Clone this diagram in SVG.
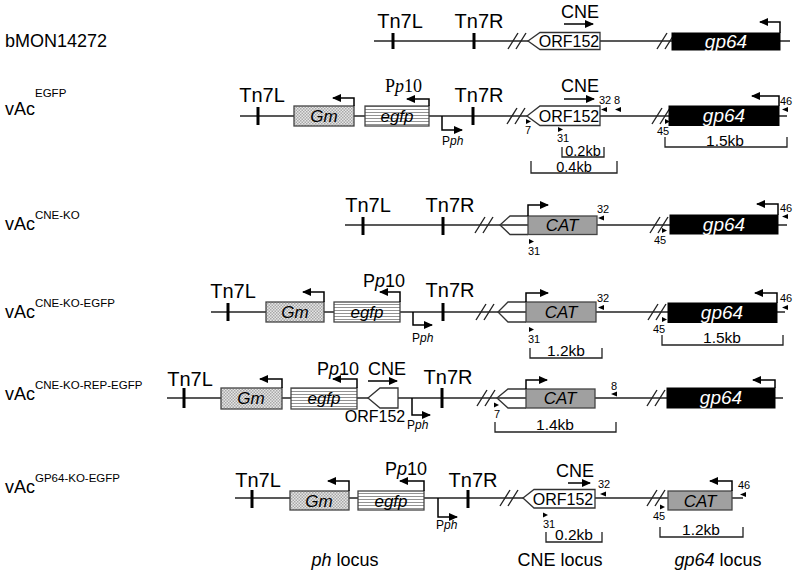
<svg xmlns="http://www.w3.org/2000/svg" width="797" height="578" viewBox="0 0 797 578">
<defs>
<pattern id="chk" width="3" height="3" patternUnits="userSpaceOnUse">
<rect width="3" height="3" fill="#e6e6e6"/>
<rect width="1.5" height="1.5" fill="#a8a8a8"/>
<rect x="1.5" y="1.5" width="1.5" height="1.5" fill="#a8a8a8"/>
</pattern>
<pattern id="hl" width="4" height="3" patternUnits="userSpaceOnUse">
<rect width="4" height="3" fill="#fff"/>
<line x1="0" y1="1.5" x2="4" y2="1.5" stroke="#777" stroke-width="0.8"/>
</pattern>
<marker id="ah" markerUnits="userSpaceOnUse" markerWidth="9" markerHeight="8" viewBox="0 0 9 8" refX="8" refY="4" orient="auto">
<path d="M0,0 L9,4 L0,8 Z" fill="#000"/>
</marker>
</defs>
<style>
.bb{stroke:#222;stroke-width:1.4;fill:none}
.ko{stroke:#333;stroke-width:1.3;fill:none}
.brk{stroke:#222;stroke-width:1.4;fill:none}
.tick{stroke:#000;stroke-width:3}
.box{stroke:#444;stroke-width:1.3}
.gm{fill:url(#chk)}
.eg{fill:url(#hl)}
.cat{fill:#a0a0a0}
.gp{fill:#000;stroke:#000}
.orf{fill:#fff;stroke:#333;stroke-width:1.3}
.pr{stroke:#000;stroke-width:1.5;fill:none;marker-end:url(#ah)}
.sb{stroke:#222;stroke-width:1.3;fill:none}
.pm{fill:#000}
text{font-family:"Liberation Sans",Arial,sans-serif;fill:#000}
.lab{font-size:18px}
.sup{font-size:11.5px}
.tn{font-size:20px;text-anchor:middle}
.cne{font-size:18px;text-anchor:middle}
.orft{font-size:16px;text-anchor:middle}
.gt{font-size:17px;font-style:italic;text-anchor:middle}
.gpt{font-size:19px;font-style:italic;text-anchor:middle;fill:#fff}
.num{font-size:11px}
.kb{font-size:15.5px;text-anchor:middle}
.kbs{font-size:14.5px;text-anchor:middle}
.pph{font-size:12px}
.pp10{font-size:18px}
.loc{font-size:18px;text-anchor:middle}
</style>

<g id="connectors">
<line class="bb" x1="374" y1="41" x2="790" y2="41"/>
<path class="brk" d="M508,49 L518,33 M516,49 L526,33 M657,49 L667,33 M665,49 L675,33"/>
<line class="bb" x1="240" y1="116" x2="787" y2="116"/>
<path class="brk" d="M507,124 L517,108 M515,124 L525,108 M652,124 L662,108 M660,124 L670,108"/>
<line class="bb" x1="345" y1="225" x2="787" y2="225"/>
<path class="brk" d="M475,233 L485,217 M483,233 L493,217 M650,233 L660,217 M658,233 L668,217"/>
<line class="bb" x1="211" y1="312" x2="785" y2="312"/>
<path class="brk" d="M476,320 L486,304 M484,320 L494,304 M648,320 L658,304 M656,320 L666,304"/>
<line class="bb" x1="167" y1="398" x2="783" y2="398"/>
<path class="brk" d="M477,406 L487,390 M485,406 L495,390 M647,406 L657,390 M655,406 L665,390"/>
<line class="bb" x1="235" y1="498" x2="743" y2="498"/>
<path class="brk" d="M500,506 L510,490 M508,506 L518,490 M647,506 L657,490 M655,506 L665,490"/>
</g>

<g id="row1">
<text class="lab" x="5" y="47">bMON14272</text>
<g id="r1-tn7l"><line class="tick" x1="393" y1="33" x2="393" y2="49"/><text class="tn" x="400" y="28">Tn7L</text></g>
<g id="r1-tn7r"><line class="tick" x1="474" y1="33" x2="474" y2="49"/><text class="tn" x="479" y="28">Tn7R</text></g>
<g id="r1-orf152"><path class="orf" d="M528,41 L540,32.5 L600,32.5 L600,49.5 L540,49.5 Z"/><text class="orft" x="569" y="47">ORF152</text></g>
<g id="r1-cne"><text class="cne" x="580" y="18">CNE</text><line class="pr" x1="564" y1="24" x2="593" y2="24"/></g>
<g id="r1-gp64"><rect class="gp" x="672" y="33" width="108" height="17"/><text class="gpt" x="726" y="47.5">gp64</text><polyline class="pr" points="780,33 780,22 760,22"/></g>
</g>

<g id="row2">
<text class="lab" x="5" y="115">vAc</text><text class="sup" x="35" y="97">EGFP</text>
<g id="r2-tn7l"><line class="tick" x1="258" y1="107" x2="258" y2="125"/><text class="tn" x="262" y="102">Tn7L</text></g>
<g id="r2-gm"><rect class="box gm" x="294" y="106" width="60" height="20"/><text class="gt" x="324" y="122">Gm</text><polyline class="pr" points="354,106 354,98 333,98"/></g>
<g id="r2-egfp"><rect class="box eg" x="365" y="106" width="64" height="20"/><text class="gt" x="397" y="122">egfp</text><polyline class="pr" points="429,106 429,99 407,99"/>
<text class="pp10" x="385" y="92" style="font-family:'Liberation Serif','Times New Roman',serif">P<tspan font-style="italic">p</tspan>10</text></g>
<g id="r2-pph"><polyline class="pr" points="442,116 442,130 462,130"/><text class="pph" x="442" y="145">P<tspan font-style="italic">ph</tspan></text></g>
<g id="r2-tn7r"><line class="tick" x1="473" y1="107" x2="473" y2="125"/><text class="tn" x="479" y="102">Tn7R</text></g>
<g id="r2-orf152"><path class="orf" d="M527,116 L540,106 L600,106 L600,125.5 L540,125.5 Z"/><text class="orft" x="569" y="122">ORF152</text></g>
<g id="r2-cne"><text class="cne" x="580" y="92">CNE</text><line class="pr" x1="564" y1="99" x2="594" y2="99"/></g>
<g id="r2-primers">
<text class="num" x="599" y="104">32</text><path class="pm" d="M601,109.5 L607,107 L607,112 Z"/>
<text class="num" x="614" y="104">8</text><path class="pm" d="M615,109.5 L621,107 L621,112 Z"/>
<path class="pm" d="M526,119 L531,121.5 L526,124 Z"/><text class="num" x="525" y="134">7</text>
<path class="pm" d="M558,127 L563,129.5 L558,132 Z"/><text class="num" x="557" y="142">31</text>
<path class="pm" d="M665,119 L670,121.5 L665,124 Z"/><text class="num" x="657" y="135">45</text>
<text class="num" x="780" y="105">46</text><path class="pm" d="M782,109.5 L788,107 L788,112 Z"/>
</g>
<g id="r2-gp64"><rect class="gp" x="669" y="106" width="110" height="19.5"/><text class="gpt" x="724" y="122">gp64</text><polyline class="pr" points="779,106 779,96 752,96"/></g>
<g id="r2-scale">
<path class="sb" d="M562,147 V157 H604 V147"/><text class="kbs" x="583" y="155.5">0.2kb</text>
<path class="sb" d="M531,161 V173 H617 V161"/><text class="kbs" x="574" y="172">0.4kb</text>
<path class="sb" d="M665,137 V147 H787 V137"/><text class="kb" x="725" y="146">1.5kb</text>
</g>
</g>

<g id="row3">
<text class="lab" x="5" y="230">vAc</text><text class="sup" x="35" y="219">CNE-KO</text>
<g id="r3-tn7l"><line class="tick" x1="363" y1="217" x2="363" y2="235"/><text class="tn" x="368" y="212">Tn7L</text></g>
<g id="r3-tn7r"><line class="tick" x1="443" y1="217" x2="443" y2="235"/><text class="tn" x="450" y="212">Tn7R</text></g>
<g id="r3-cat"><path class="ko" d="M528,216 H510 L500,225 L510,234.5 H528"/><rect class="box cat" x="528" y="216" width="69" height="18.5"/><text class="gt" x="562" y="231">CAT</text><polyline class="pr" points="528,216 528,205 548,205"/></g>
<g id="r3-primers">
<text class="num" x="597" y="213">32</text><path class="pm" d="M598,218 L604,215.5 L604,220.5 Z"/>
<path class="pm" d="M529,239 L534,241.5 L529,244 Z"/><text class="num" x="528" y="255">31</text>
<path class="pm" d="M662,228 L667,230.5 L662,233 Z"/><text class="num" x="654" y="244">45</text>
<text class="num" x="780" y="212">46</text><path class="pm" d="M782,216.5 L788,214 L788,219 Z"/>
</g>
<g id="r3-gp64"><rect class="gp" x="670" y="215" width="108" height="19"/><text class="gpt" x="724" y="231">gp64</text><polyline class="pr" points="778,215 778,204 757,204"/></g>
</g>

<g id="row4">
<text class="lab" x="5" y="318">vAc</text><text class="sup" x="35" y="307">CNE-KO-EGFP</text>
<g id="r4-tn7l"><line class="tick" x1="228" y1="303" x2="228" y2="321"/><text class="tn" x="233" y="298">Tn7L</text></g>
<g id="r4-gm"><rect class="box gm" x="266" y="302" width="58" height="20"/><text class="gt" x="295" y="318">Gm</text><polyline class="pr" points="324,302 324,292 303,292"/></g>
<g id="r4-egfp"><rect class="box eg" x="334" y="302" width="66" height="20"/><text class="gt" x="367" y="318">egfp</text><polyline class="pr" points="400,302 400,292 380,292"/>
<text class="pp10" x="363" y="287">P<tspan font-style="italic">p</tspan>10</text></g>
<g id="r4-pph"><polyline class="pr" points="413,312 413,325 432,325"/><text class="pph" x="412" y="342">P<tspan font-style="italic">ph</tspan></text></g>
<g id="r4-tn7r"><line class="tick" x1="443" y1="303" x2="443" y2="321"/><text class="tn" x="450" y="297">Tn7R</text></g>
<g id="r4-cat"><path class="ko" d="M526,302 H508 L498,312 L508,322 H526"/><rect class="box cat" x="526" y="302" width="70" height="20"/><text class="gt" x="561" y="318">CAT</text><polyline class="pr" points="526,302 526,293 548,293"/></g>
<g id="r4-primers">
<text class="num" x="597" y="302">32</text><path class="pm" d="M598,307.5 L604,305 L604,310 Z"/>
<path class="pm" d="M529,327 L534,329.5 L529,332 Z"/><text class="num" x="528" y="343">31</text>
<path class="pm" d="M662,317 L667,319.5 L662,322 Z"/><text class="num" x="653" y="333">45</text>
<text class="num" x="780" y="302">46</text><path class="pm" d="M782,307.5 L788,305 L788,310 Z"/>
</g>
<g id="r4-gp64"><rect class="gp" x="668" y="303" width="109" height="19.5"/><text class="gpt" x="722" y="319">gp64</text><polyline class="pr" points="777,303 777,293 755,293"/></g>
<g id="r4-scale">
<path class="sb" d="M530,348 V358 H602 V348"/><text class="kb" x="566" y="356">1.2kb</text>
<path class="sb" d="M662,335 V345 H783 V335"/><text class="kb" x="722" y="343">1.5kb</text>
</g>
</g>

<g id="row5">
<text class="lab" x="5" y="400">vAc</text><text class="sup" x="35" y="389">CNE-KO-REP-EGFP</text>
<g id="r5-tn7l"><line class="tick" x1="184" y1="388" x2="184" y2="408"/><text class="tn" x="190" y="386">Tn7L</text></g>
<g id="r5-gm"><rect class="box gm" x="221" y="388" width="61" height="21"/><text class="gt" x="251" y="404">Gm</text><polyline class="pr" points="282,388 282,379 260,379"/></g>
<g id="r5-egfp"><rect class="box eg" x="291" y="388" width="66" height="21"/><text class="gt" x="324" y="404">egfp</text><polyline class="pr" points="357,388 357,379 333,379"/>
<text class="pp10" x="317" y="375">P<tspan font-style="italic">p</tspan>10</text></g>
<g id="r5-orf152"><path class="orf" d="M368,398 L380,388 L398,388 L398,408 L380,408 Z"/><text class="orft" x="375" y="422">ORF152</text></g>
<g id="r5-cne"><text class="cne" x="387" y="375">CNE</text><line class="pr" x1="368" y1="381" x2="397" y2="381"/></g>
<g id="r5-pph"><polyline class="pr" points="412,398 412,415 430,415"/><text class="pph" x="407" y="429">P<tspan font-style="italic">ph</tspan></text></g>
<g id="r5-tn7r"><line class="tick" x1="442" y1="388" x2="442" y2="408"/><text class="tn" x="448" y="384">Tn7R</text></g>
<g id="r5-cat"><path class="ko" d="M526,389 H508 L497,398 L508,408 H526"/><rect class="box cat" x="526" y="389" width="69" height="19"/><text class="gt" x="560" y="404">CAT</text><polyline class="pr" points="526,389 526,380 547,380"/></g>
<g id="r5-primers">
<path class="pm" d="M494,402.5 L499,405 L494,407.5 Z"/><text class="num" x="494" y="418">7</text>
<text class="num" x="611" y="390">8</text><path class="pm" d="M611,394 L617,391.5 L617,396.5 Z"/>
</g>
<g id="r5-gp64"><rect class="gp" x="667" y="388" width="108" height="20"/><text class="gpt" x="721" y="404">gp64</text><polyline class="pr" points="775,388 775,380 753,380"/></g>
<g id="r5-scale"><path class="sb" d="M495,422 V432 H616 V422"/><text class="kb" x="555" y="430">1.4kb</text></g>
</g>

<g id="row6">
<text class="lab" x="5" y="493">vAc</text><text class="sup" x="35" y="482">GP64-KO-EGFP</text>
<g id="r6-tn7l"><line class="tick" x1="252" y1="490" x2="252" y2="508"/><text class="tn" x="258" y="487">Tn7L</text></g>
<g id="r6-gm"><rect class="box gm" x="290" y="491" width="59" height="19"/><text class="gt" x="319" y="507">Gm</text><polyline class="pr" points="349,491 349,481 328,481"/></g>
<g id="r6-egfp"><rect class="box eg" x="358" y="491" width="66" height="19"/><text class="gt" x="391" y="507">egfp</text><polyline class="pr" points="424,491 424,481 400,481"/>
<text class="pp10" x="385" y="475">P<tspan font-style="italic">p</tspan>10</text></g>
<g id="r6-pph"><polyline class="pr" points="438,498 438,517 457,517"/><text class="pph" x="436" y="529">P<tspan font-style="italic">ph</tspan></text></g>
<g id="r6-tn7r"><line class="tick" x1="468" y1="490" x2="468" y2="508"/><text class="tn" x="473" y="487">Tn7R</text></g>
<g id="r6-orf152"><path class="orf" d="M523,498 L534,489.5 L595,489.5 L595,508 L534,508 Z"/><text class="orft" x="563" y="505">ORF152</text></g>
<g id="r6-cne"><text class="cne" x="575" y="477">CNE</text><line class="pr" x1="568" y1="483" x2="590" y2="483"/></g>
<g id="r6-primers">
<text class="num" x="598" y="488">32</text><path class="pm" d="M600,494 L606,491.5 L606,496.5 Z"/>
<path class="pm" d="M543,512.5 L548,515 L543,517.5 Z"/><text class="num" x="543" y="528">31</text>
<path class="pm" d="M660,504.5 L665,507 L660,509.5 Z"/><text class="num" x="653" y="520">45</text>
<text class="num" x="738" y="489">46</text><path class="pm" d="M740,494.5 L746,492 L746,497 Z"/>
</g>
<g id="r6-cat"><rect class="box cat" x="668" y="491" width="64" height="19"/><text class="gt" x="700" y="507">CAT</text><polyline class="pr" points="732,491 732,481 710,481"/></g>
<g id="r6-scale">
<path class="sb" d="M546,532 V542 H602 V532"/><text class="kb" x="574" y="540">0.2kb</text>
<path class="sb" d="M660,527 V537 H743 V527"/><text class="kb" x="701" y="535">1.2kb</text>
</g>
</g>

<g id="loci">
<text class="loc" x="345" y="566"><tspan font-style="italic">ph</tspan> locus</text>
<text class="loc" x="560" y="566">CNE locus</text>
<text class="loc" x="718" y="566"><tspan font-style="italic">gp64</tspan> locus</text>
</g>
</svg>
